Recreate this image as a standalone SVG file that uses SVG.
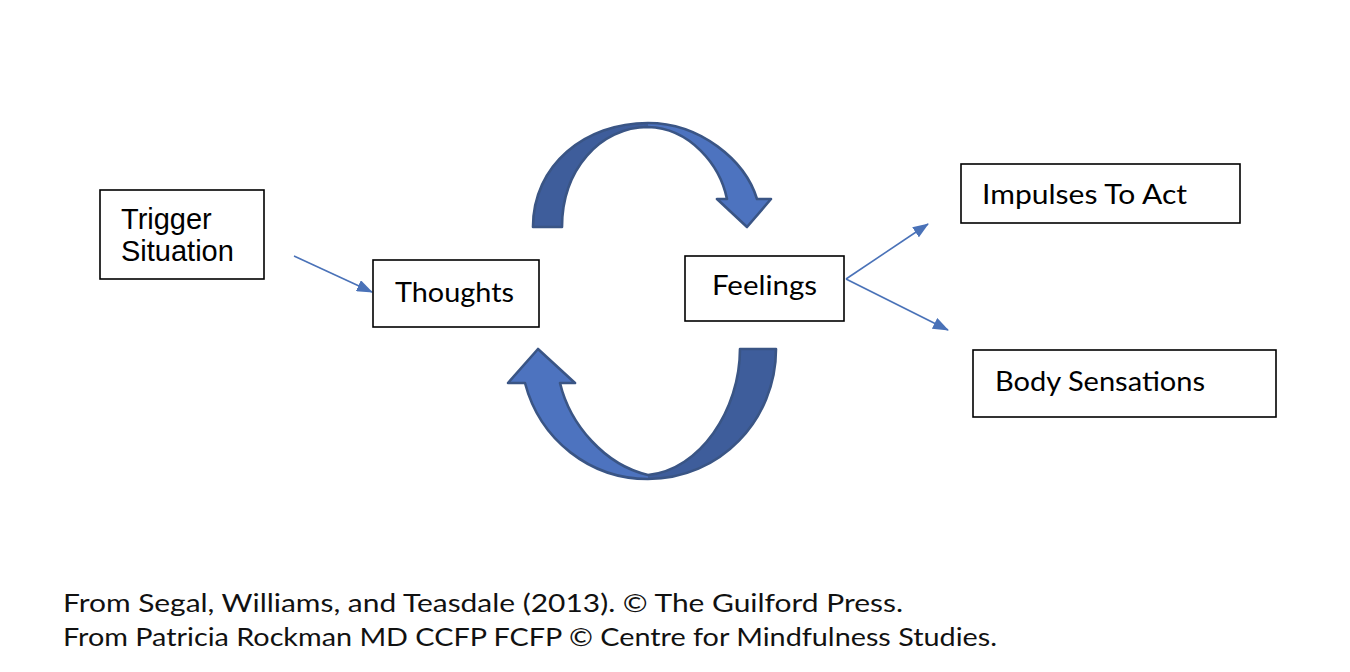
<svg xmlns="http://www.w3.org/2000/svg" width="1350" height="672" viewBox="0 0 1350 672">
<style>
.box{fill:#fff;stroke:#000;stroke-width:1.6}
.lbl{font-family:Lato,"Open Sans","Noto Sans",sans-serif;font-size:27px;fill:#000}
.arial{font-family:"Liberation Sans",Arial,sans-serif;font-size:29px;fill:#000}
.foot{font-family:Lato,"Open Sans","Noto Sans",sans-serif;font-size:25px;fill:#111}
.con{stroke:#4a72b8;stroke-width:1.6;fill:none}
.dark{fill:#3e5d9b}
.light{fill:#4d73bf}
.outline{fill:none;stroke:#3a5585;stroke-width:2.6;stroke-linejoin:round}
</style>
<defs>
<marker id="ah2" viewBox="0 0 16 12" refX="15" refY="6" markerWidth="16" markerHeight="12" markerUnits="userSpaceOnUse" orient="auto">
<path d="M0,0 L16,6 L0,12 Z" fill="#4a72b8"/>
</marker>
</defs>
<rect width="1350" height="672" fill="#fff"/>

<g id="cycle-top">
<path class="dark" d="M533,227 C533,165 585,123 648,123 L648,127 C600,127 562,170 562,227 Z"/>
<path class="light" d="M648,123 C700,123 745,160 757,199 L771,199 L747,227 L717,199 L727,199 C720,165 690,128 648,127 Z"/>
<path class="outline" d="M533,227 C533,165 585,123 648,123 C700,123 745,160 757,199 L771,199 L747,227 L717,199 L727,199 C720,165 690,128 648,127 C600,127 562,170 562,227 Z"/>
</g>
<g id="cycle-bottom">
<path class="dark" d="M776,349 C776,420 720,479 648,479 L648,475 C700,470 740,410 740,349 Z"/>
<path class="light" d="M648,479 C590,479 540,440 525,383 L508,383 L538,349 L575,383 L560,383 C570,425 605,465 648,475 Z"/>
<path class="outline" d="M776,349 C776,420 720,479 648,479 C590,479 540,440 525,383 L508,383 L538,349 L575,383 L560,383 C570,425 605,465 648,475 C700,470 740,410 740,349 Z"/>
</g>

<g id="connectors">
<line class="con" x1="294" y1="256" x2="372" y2="292" marker-end="url(#ah2)"/>
<line class="con" x1="846" y1="279" x2="928" y2="224" marker-end="url(#ah2)"/>
<line class="con" x1="846" y1="279" x2="948" y2="330" marker-end="url(#ah2)"/>
</g>

<g id="trigger">
<rect class="box" x="100" y="190" width="164" height="89"/>
<text class="arial" x="121" y="229">Trigger</text>
<text class="arial" x="121" y="261">Situation</text>
</g>
<g id="thoughts">
<rect class="box" x="373" y="260" width="166" height="67"/>
<text class="lbl" x="395" y="302" textLength="119" lengthAdjust="spacingAndGlyphs">Thoughts</text>
</g>
<g id="feelings">
<rect class="box" x="685" y="256" width="159" height="65"/>
<text class="lbl" x="712" y="295" textLength="105" lengthAdjust="spacingAndGlyphs">Feelings</text>
</g>
<g id="impulses">
<rect class="box" x="961" y="164" width="279" height="59"/>
<text class="lbl" x="982" y="204" textLength="205" lengthAdjust="spacingAndGlyphs">Impulses To Act</text>
</g>
<g id="body">
<rect class="box" x="973" y="350" width="303" height="67"/>
<text class="lbl" x="995" y="391" textLength="210" lengthAdjust="spacingAndGlyphs">Body Sensations</text>
</g>

<g id="footer">
<text class="foot" x="63" y="612" textLength="840" lengthAdjust="spacingAndGlyphs">From Segal, Williams, and Teasdale (2013). © The Guilford Press.</text>
<text class="foot" x="63" y="646" textLength="934" lengthAdjust="spacingAndGlyphs">From Patricia Rockman MD CCFP FCFP © Centre for Mindfulness Studies.</text>
</g>
</svg>
